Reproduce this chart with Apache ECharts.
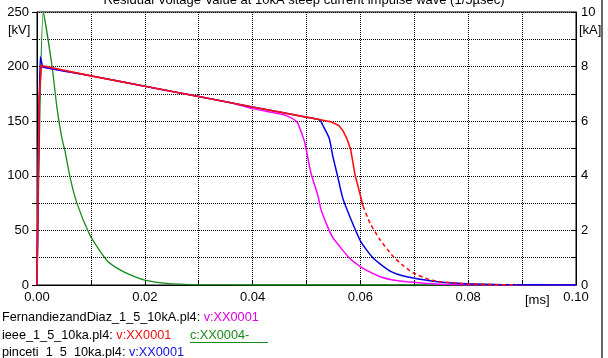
<!DOCTYPE html>
<html>
<head>
<meta charset="utf-8">
<script src="https://cdn.jsdelivr.net/npm/echarts@6/dist/echarts.min.js"></script>
<style>
html, body { margin: 0; padding: 0; background: #fff; }
#main { width: 608px; height: 358px; }
</style>
</head>
<body>
<div id="main"></div>
<script>
// time in ms, voltage in kV, current in kA
var redTime = [0, 0.0004, 0.0008, 0.001, 0.01, 0.02, 0.03, 0.04, 0.05, 0.0545, 0.056, 0.0568, 0.0575, 0.0582, 0.059, 0.060, 0.0605];
var redVolt = [0, 170, 201, 200, 191.5, 182, 172.6, 163, 153.7, 149.5, 146, 141, 134, 124, 101, 82, 72];
var redTailTime = [0.0605, 0.0618, 0.0637, 0.0661, 0.068, 0.0698, 0.073, 0.075, 0.08, 0.085, 0.089];
var redTailVolt = [72, 56.5, 41, 26, 17.5, 11, 4.6, 3, 1, 0.4, 0.2];

var magTime = [0, 0.0004, 0.0008, 0.001, 0.01, 0.02, 0.03, 0.036, 0.04, 0.044, 0.046, 0.0482, 0.0491, 0.0497, 0.0508, 0.0521, 0.0527, 0.0537, 0.0548, 0.0562, 0.058, 0.060, 0.062, 0.0637, 0.066, 0.0686, 0.072, 0.075, 0.08, 0.09, 0.1];
var magVolt = [0, 168, 200, 199.5, 191.5, 182, 172.6, 166.9, 161.5, 157.7, 155.6, 149.5, 139, 130, 103, 82, 69, 56, 44, 35, 24.5, 16.8, 11.3, 7.6, 4.6, 3, 1.5, 0.6, 0.2, 0, 0];

var blueTime = [0, 0.0003, 0.0006, 0.0009, 0.0011, 0.01, 0.02, 0.03, 0.04, 0.05, 0.0525, 0.053, 0.0542, 0.0549, 0.0558, 0.0567, 0.0583, 0.0601, 0.0625, 0.0657, 0.0686, 0.0735, 0.078, 0.085, 0.1];
var blueVolt = [0, 120, 209, 203, 199.8, 191.5, 182, 172.6, 163, 153.7, 151, 146.5, 134.6, 117.5, 99, 80, 59.5, 39.5, 24, 12.2, 7.5, 3.5, 1.5, 0.4, 0];

var greenTime = [0, 0.00117, 0.0028, 0.0037, 0.0046, 0.0052, 0.0061, 0.0074, 0.0098, 0.0115, 0.0132, 0.015, 0.0173, 0.02, 0.024, 0.03, 0.04, 0.1];
var greenAmp = [0, 10, 8.0, 6.5, 5.4, 4.9, 3.97, 3.0, 1.83, 1.3, 0.85, 0.6, 0.37, 0.18, 0.06, 0.01, 0, 0];

function pairs(t, v) {
    var out = [];
    for (var i = 0; i < t.length; i++) out.push([t[i], v[i]]);
    return out;
}

var FONT = '"Liberation Sans", Arial, sans-serif';
var LEG = 12.7;
var chart = echarts.init(document.getElementById('main'));

var option = {
    animation: false,
    backgroundColor: '#fff',
    grid: {
        left: 37, right: 32, top: 12, bottom: 73,
        show: true, borderColor: '#000', borderWidth: 1
    },
    xAxis: {
        type: 'value', min: 0, max: 0.1, interval: 0.01,
        axisLine: { lineStyle: { color: '#000', width: 1 } },
        axisTick: { inside: true, length: 4, lineStyle: { color: '#000' } },
        axisLabel: {
            margin: 6, color: '#000', fontSize: 13, fontFamily: FONT,
            formatter: function (v) {
                return Math.round(v * 100) % 2 === 0 ? v.toFixed(2) : '';
            }
        },
        splitLine: { show: true, lineStyle: { color: '#000', width: 1, type: [1, 1] } }
    },
    yAxis: [{
        type: 'value', min: 0, max: 250, interval: 25, position: 'left',
        axisLine: { show: true, lineStyle: { color: '#000', width: 1 } },
        axisTick: { show: true, length: 5, lineStyle: { color: '#000' } },
        axisLabel: {
            margin: 8, color: '#000', fontSize: 13, fontFamily: FONT,
            formatter: function (v) { return v % 50 === 0 ? String(v) : ''; }
        },
        splitLine: { show: true, lineStyle: { color: '#000', width: 1, type: [1, 1] } }
    }, {
        type: 'value', min: 0, max: 10, interval: 1, position: 'right',
        axisLine: { show: true, lineStyle: { color: '#000', width: 1 } },
        axisTick: { show: true, inside: true, length: 5, lineStyle: { color: '#000' } },
        axisLabel: {
            margin: 5, color: '#000', fontSize: 13, fontFamily: FONT,
            formatter: function (v) { return v % 2 === 0 ? String(v) : ''; }
        },
        splitLine: { show: false }
    }],
    series: [{
        name: 'c:XX0004-', type: 'line', yAxisIndex: 1, showSymbol: false,
        data: pairs(greenTime, greenAmp), smooth: 0.2,
        lineStyle: { color: '#188a18', width: 1.3 }
    }, {
        name: 'Fernandiez v', type: 'line', showSymbol: false,
        data: pairs(magTime, magVolt), smooth: 0.2,
        lineStyle: { color: '#ff00ff', width: 1.5 }
    }, {
        name: 'pinceti v', type: 'line', showSymbol: false,
        data: pairs(blueTime, blueVolt), smooth: 0.2,
        lineStyle: { color: '#0000e6', width: 1.5 }
    }, {
        name: 'ieee v', type: 'line', showSymbol: false,
        data: pairs(redTime, redVolt),
        lineStyle: { color: '#ff1010', width: 1.6 }
    }, {
        name: 'ieee v tail', type: 'line', showSymbol: false,
        data: pairs(redTailTime, redTailVolt), smooth: 0.2,
        lineStyle: { color: '#ff1010', width: 1.5, type: [4, 3] }
    }],
    graphic: [{
        type: 'text', left: 'center', top: -6,
        style: { text: 'Residual Voltage Value at 10kA steep current impulse wave (1/5µsec)', fill: '#000', fontSize: 13, fontFamily: FONT }
    }, {
        type: 'text', left: 8, top: 24,
        style: { text: '[kV]', fill: '#000', fontSize: 13, fontFamily: FONT }
    }, {
        type: 'text', left: 579, top: 24,
        style: { text: '[kA]', fill: '#000', fontSize: 13, fontFamily: FONT }
    }, {
        type: 'text', left: 525, top: 294,
        style: { text: '[ms]', fill: '#000', fontSize: 13, fontFamily: FONT }
    }, {
        type: 'text', left: 2, top: 311,
        style: {
            text: '{k|FernandiezandDiaz_1_5_10kA.pl4: }{m|v:XX0001}',
            fontSize: LEG, fontFamily: FONT,
            rich: {
                k: { fill: '#000', fontSize: LEG, fontFamily: FONT },
                m: { fill: '#e000e0', fontSize: LEG, fontFamily: FONT }
            }
        }
    }, {
        type: 'text', left: 2, top: 329,
        style: {
            text: '{k|ieee_1_5_10ka.pl4: }{r|v:XX0001}',
            fontSize: LEG, fontFamily: FONT,
            rich: {
                k: { fill: '#000', fontSize: LEG, fontFamily: FONT },
                r: { fill: '#ee1010', fontSize: LEG, fontFamily: FONT }
            }
        }
    }, {
        type: 'text', left: 190, top: 329,
        style: { text: 'c:XX0004-', fill: '#188a18', fontSize: LEG, fontFamily: FONT }
    }, {
        type: 'line', shape: { x1: 190, y1: 342.5, x2: 268, y2: 342.5 },
        style: { stroke: '#188a18', lineWidth: 1 }
    }, {
        type: 'text', left: 2, top: 346,
        style: {
            text: '{k|pinceti_1_5_10ka.pl4: }{b|v:XX0001}',
            fontSize: LEG, fontFamily: FONT,
            rich: {
                k: { fill: '#000', fontSize: LEG, fontFamily: FONT },
                b: { fill: '#1010e0', fontSize: LEG, fontFamily: FONT }
            }
        }
    }, {
        type: 'line', shape: { x1: 602, y1: 0, x2: 602, y2: 358 },
        style: { stroke: '#333', lineWidth: 1.5 }
    }]
};
chart.setOption(option);
</script>
</body>
</html>
